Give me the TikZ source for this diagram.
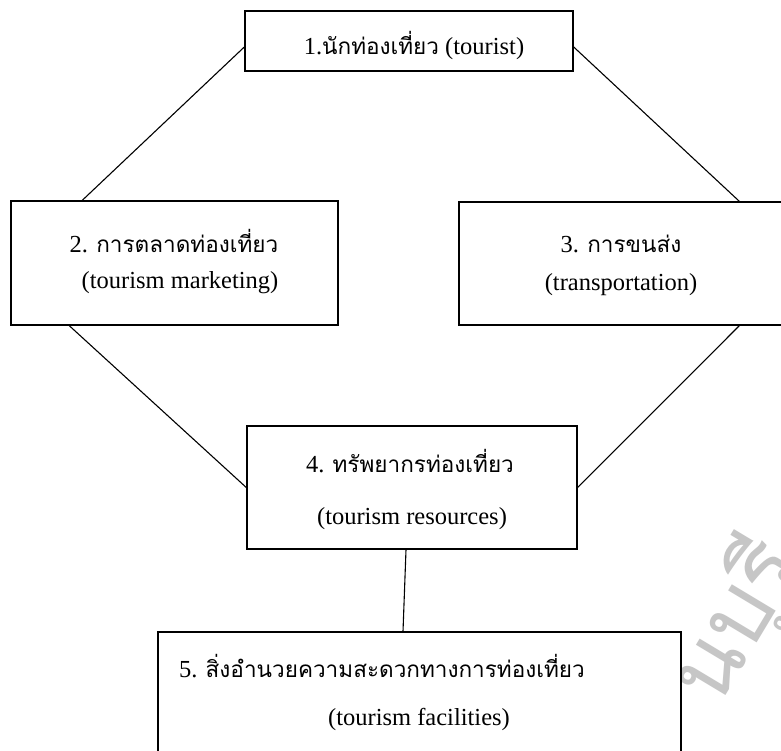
\documentclass[tikz,border=0pt]{standalone}
\usepackage{fontspec}
\setmainfont{Liberation Serif}
\newfontfamily\thaitxt[Script=Thai,Scale=0.92]{Loma}
\usetikzlibrary{calc}
\tikzset{
  topic/.style={draw, line width=1.4pt, fill=white, inner sep=0pt},
  link/.style={line width=1.1pt},
  say/.style={font=\fontsize{24.5}{28}\selectfont, anchor=base, inner sep=0pt},
  stamp/.style={font=\fontsize{100}{100}\selectfont\thaitxt, text=gray!45, inner sep=0pt}
}
\begin{document}
\begin{tikzpicture}[x=1pt,y=-1pt]
\clip (0,0) rectangle (781,751);
\fill[white] (0,0) rectangle (781,751);
% watermark
\node[stamp, rotate=59] (mark) at (738,622) {นบุรี};
% boxes
\node[topic, minimum width=328pt, minimum height=60pt] (tourist) at (409,41) {};
\node[topic, minimum width=327pt, minimum height=124pt] (marketing) at (174.5,263) {};
\node[topic, minimum width=324pt, minimum height=123pt] (transport) at (621,263.5) {};
\node[topic, minimum width=330pt, minimum height=123pt] (resource) at (412,487.5) {};
\node[topic, minimum width=523pt, minimum height=168pt] (facility) at (419.5,716) {};
% texts
\node[say] (touristtxt) at (414,55) {1.{\thaitxt นักท่องเที่ยว} (tourist)};
\node[say] (marketingth) at (174,253) {2. {\thaitxt การตลาดท่องเที่ยว}};
\node[say] (marketingen) at (180,288) {(tourism marketing)};
\node[say] (transportth) at (621,253) {3. {\thaitxt การขนส่ง}};
\node[say] (transporten) at (621,290) {(transportation)};
\node[say] (resourceth) at (410,472) {4. {\thaitxt ทรัพยากรท่องเที่ยว}};
\node[say] (resourceen) at (412,524) {(tourism resources)};
\node[say, anchor=base west] (facilityth) at (179,677) {5. {\thaitxt สิ่งอำนวยความสะดวกทางการท่องเที่ยว}};
\node[say] (facilityen) at (419,725) {(tourism facilities)};
% connectors
\draw[link] ([yshift=-6pt]tourist.west) -- ([xshift=72pt]marketing.north west);
\draw[link] ([yshift=-6pt]tourist.east) -- ([xshift=281pt]transport.north west);
\draw[link] ([xshift=59pt]marketing.south west) -- (resource.west);
\draw[link] ([xshift=281pt]transport.south west) -- (resource.east);
\draw[link] ([xshift=-6pt]resource.south) -- ([xshift=-16.5pt]facility.north);
\end{tikzpicture}
\end{document}
